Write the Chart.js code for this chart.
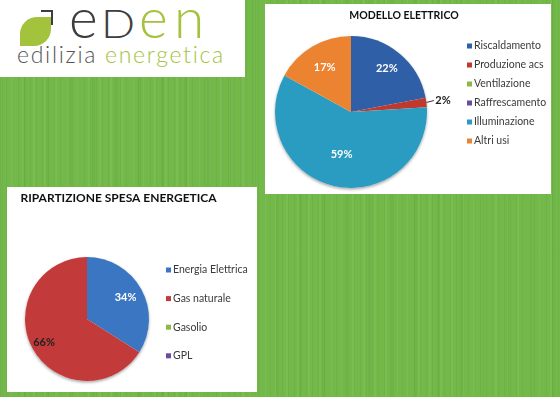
<!DOCTYPE html>
<html>
<head>
<meta charset="utf-8">
<script src="https://cdn.jsdelivr.net/npm/chart.js@4.4.0/dist/chart.umd.min.js"></script>
<style>
  html, body { margin: 0; padding: 0; }
  body {
    width: 560px; height: 397px; overflow: hidden; position: relative;
    background: #73b94a;
    font-family: Lato, "Open Sans", sans-serif;
  }
  .texture {
    position: absolute; left: 0; top: 0; width: 560px; height: 397px;
    background:
      repeating-linear-gradient(90deg, rgba(40,90,20,0.07) 0 1px, transparent 1px 6px),
      repeating-linear-gradient(90deg, rgba(255,255,255,0.05) 0 2px, transparent 2px 11px),
      repeating-linear-gradient(90deg, rgba(30,80,10,0.05) 0 3px, transparent 3px 23px);
  }
  .box { position: absolute; background: #fff; }
  #logo { left: 0; top: 0; width: 245px; height: 77px; }
  #boxTop { left: 265px; top: 4px; width: 286px; height: 190px; }
  #boxBottom { left: 7px; top: 187px; width: 250px; height: 205px; }
  canvas { position: absolute; left: 0; top: 0; }
  .leaf {
    position: absolute; left: 20px; top: 17px; width: 31px; height: 29px;
    background: #a3c33d;
    border-radius: 17px 0 17px 0;
  }
  .bracket {
    position: absolute; left: 41px; top: 10px; width: 10px; height: 13px;
    border-top: 2.5px solid #3d3d3d; border-right: 2.5px solid #3d3d3d;
  }
  .big { position: absolute; top: -10px; font-weight: 300; font-size: 55px; line-height: 55px; }
  .sub { position: absolute; left: 17px; top: 41px; font-size: 23px; line-height: 26px; font-weight: 300; letter-spacing: 1.7px; white-space: nowrap; }
</style>
</head>
<body>
<div class="texture"></div>

<div class="box" id="logo">
  <div class="leaf"></div>
  <div class="bracket"></div>
  <span class="big" style="left:69px;color:#3d3d3d">e</span>
  <span class="big" style="left:101px;top:4px;font-size:39px;line-height:39px;color:#3d3d3d;transform-origin:0 0;transform:scaleX(1.15)">D</span>
  <span class="big" style="left:139px;color:#a3c33d">e</span>
  <span class="big" style="left:174px;color:#a3c33d">n</span>
  <div class="sub"><span style="color:#555">edilizia</span> <span style="color:#a3c33d">energetica</span></div>
</div>

<div class="box" id="boxTop"><canvas id="chartTop" width="286" height="190"></canvas></div>
<div class="box" id="boxBottom"><canvas id="chartBottom" width="250" height="205"></canvas></div>

<script>
// MODELLO ELETTRICO
const elettricoLabels = ["Riscaldamento", "Produzione acs", "Ventilazione", "Raffrescamento", "Illuminazione", "Altri usi"];
const elettricoValues = [22, 2, 0, 0, 59, 17];
const elettricoColors = ["#2f5fa6", "#c0392f", "#8db843", "#6a4c9c", "#2b9cc1", "#ec8331"];

// RIPARTIZIONE SPESA ENERGETICA
const spesaLabels = ["Energia Elettrica", "Gas naturale", "Gasolio", "GPL"];
const spesaValues = [34, 66, 0, 0];
const spesaColors = ["#3a76c2", "#c33a3a", "#8db843", "#6a4c9c"];

// title, legend, percent labels and a soft shadow, Excel style
const excelPie = {
  id: "excelPie",
  beforeDatasetsDraw(chart, args, o) {
    const arc = chart.getDatasetMeta(0).data[0];
    if (!arc) return;
    const ctx = chart.ctx;
    ctx.save();
    ctx.shadowColor = "rgba(0,0,0,0.35)";
    ctx.shadowBlur = 3;
    ctx.shadowOffsetY = 1.5;
    ctx.fillStyle = "#fff";
    ctx.beginPath();
    ctx.arc(arc.x, arc.y, arc.outerRadius, 0, Math.PI * 2);
    ctx.fill();
    ctx.restore();
  },
  afterDraw(chart, args, o) {
    const ctx = chart.ctx;
    const ds = chart.data.datasets[0];
    ctx.save();
    ctx.textBaseline = "middle";

    ctx.font = o.titleFont;
    ctx.fillStyle = "#111";
    ctx.textAlign = o.titleAlign;
    ctx.fillText(o.title, o.titleX, o.titleY);

    ctx.font = o.legendFont;
    ctx.textAlign = "left";
    chart.data.labels.forEach((lab, i) => {
      const y = o.legendY + i * o.legendStep;
      ctx.fillStyle = ds.backgroundColor[i];
      ctx.fillRect(o.legendX, y - 2.5, 5, 5);
      ctx.fillStyle = "#3a3a3a";
      ctx.fillText(lab, o.legendX + 7, y);
    });

    const total = ds.data.reduce((a, b) => a + b, 0);
    ctx.font = "bold 11px Lato, sans-serif";
    ctx.textAlign = "center";
    chart.getDatasetMeta(0).data.forEach((arc, i) => {
      const v = ds.data[i];
      if (!v) return;
      const a = (arc.startAngle + arc.endAngle) / 2;
      const f = o.labelRadius[i];
      const r = arc.outerRadius;
      if (f > 1) {
        ctx.strokeStyle = "#333";
        ctx.lineWidth = 1;
        ctx.beginPath();
        ctx.moveTo(arc.x + Math.cos(a) * r, arc.y + Math.sin(a) * r);
        ctx.lineTo(arc.x + Math.cos(a) * r * 1.1, arc.y + Math.sin(a) * r * 1.1 - 1);
        ctx.stroke();
      }
      ctx.fillStyle = o.labelColors[i];
      ctx.fillText(Math.round(v / total * 100) + "%", arc.x + Math.cos(a) * r * f, arc.y + Math.sin(a) * r * f);
    });
    ctx.restore();
  }
};

function makePie(id, labels, values, colors, padding, opts) {
  return new Chart(document.getElementById(id), {
    type: "pie",
    data: {
      labels: labels,
      datasets: [{ data: values, backgroundColor: colors, borderWidth: 0 }]
    },
    options: {
      responsive: false,
      animation: false,
      layout: { padding: padding },
      plugins: {
        legend: { display: false },
        tooltip: { enabled: false },
        excelPie: opts
      }
    },
    plugins: [excelPie]
  });
}

makePie("chartTop", elettricoLabels, elettricoValues, elettricoColors,
  { left: 10, right: 124, top: 32, bottom: 6 },
  {
    title: "MODELLO ELETTRICO", titleFont: "bold 10.5px Lato, sans-serif", titleAlign: "center", titleX: 139, titleY: 12,
    legendFont: "10.5px Lato, sans-serif", legendX: 202, legendY: 42, legendStep: 19,
    labelRadius: [0.74, 1.22, 0, 0, 0.57, 0.68],
    labelColors: ["#fff", "#222", "#fff", "#fff", "#fff", "#fff"]
  });

makePie("chartBottom", spesaLabels, spesaValues, spesaColors,
  { left: 18, right: 108, top: 70, bottom: 11 },
  {
    title: "RIPARTIZIONE SPESA ENERGETICA", titleFont: "bold 12px Lato, sans-serif", titleAlign: "left", titleX: 13.5, titleY: 11,
    legendFont: "10.5px Lato, sans-serif", legendX: 159, legendY: 83, legendStep: 28.6,
    labelRadius: [0.71, 0.79, 0, 0],
    labelColors: ["#fff", "#222", "#fff", "#fff"]
  });
</script>
</body>
</html>
